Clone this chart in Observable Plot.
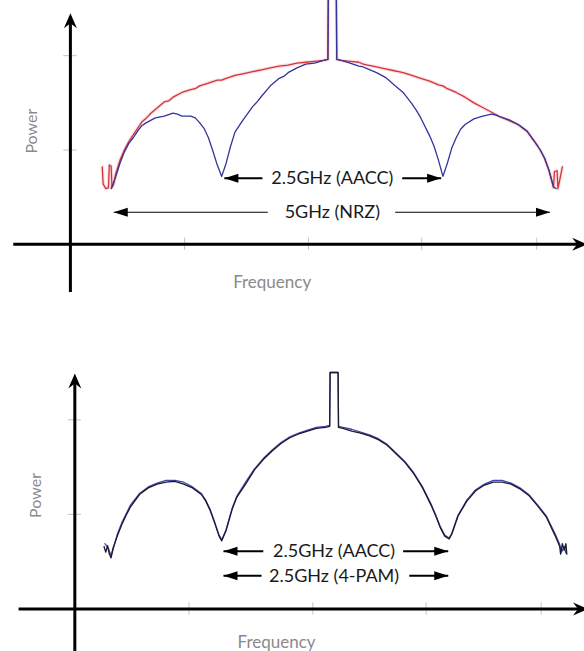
<!DOCTYPE html>
<html>
<head>
<meta charset="utf-8">
<script src="https://cdn.jsdelivr.net/npm/d3@7"></script>
<script src="https://cdn.jsdelivr.net/npm/@observablehq/plot@0.6"></script>
<style>
  body { margin: 0; background: #fff; }
  #chart svg { display: block; }
</style>
</head>
<body>
<div id="chart"></div>
<script>
// Power spectra of NRZ, AACC and 4-PAM signalling (frequency offset from the carrier in GHz, power in dB).

// Unlabelled axis tick positions
const xTicksGHz = [1.29, 2.69, 3.97, 5.27];
const yTicksDb = [10, 20];

// ---- Upper panel: NRZ vs AACC ----
const topAaccOffset = [-2.5, -2.45, -2.4, -2.35, -2.3, -2.25, -2.2, -2.15, -2.1, -2.0, -1.9, -1.8, -1.75, -1.7, -1.6, -1.55, -1.5, -1.45, -1.4, -1.35, -1.3, -1.25, -1.2, -1.15, -1.1, -1.05, -1.0, -0.9, -0.85, -0.8, -0.7, -0.6, -0.55, -0.5, -0.4, -0.3, -0.2, -0.1, -0.05, -0.045, 0.045, 0.05, 0.1, 0.2, 0.3, 0.35, 0.4, 0.5, 0.6, 0.7, 0.8, 0.9, 0.95, 1.0, 1.1, 1.15, 1.2, 1.25, 1.3, 1.35, 1.4, 1.45, 1.5, 1.6, 1.7, 1.8, 1.85, 1.9, 2.0, 2.1, 2.2, 2.3, 2.35, 2.4, 2.45, 2.5, 2.53];
const topAaccPower  = [5.9, 7.1, 8.6, 9.8, 10.7, 11.3, 12.0, 12.6, 12.9, 13.4, 13.6, 13.9, 13.8, 13.6, 13.6, 13.4, 12.9, 12.3, 11.3, 9.9, 8.4, 7.2, 8.6, 10.4, 11.9, 12.6, 13.3, 14.6, 15.1, 15.7, 16.8, 17.6, 17.8, 18.2, 18.7, 19.1, 19.2, 19.5, 19.6, 27, 27, 19.6, 19.5, 19.2, 18.9, 18.8, 18.6, 18.2, 17.7, 16.9, 16.1, 14.9, 14.2, 13.4, 11.5, 10.4, 8.9, 7.2, 8.6, 10.2, 11.3, 12.2, 12.7, 13.3, 13.6, 13.8, 13.7, 13.5, 13.2, 12.7, 12.0, 10.7, 10.0, 9.1, 7.8, 6.1, 5.9];

const topNrzOffset = [-2.6, -2.59, -2.56, -2.53, -2.52, -2.5, -2.49, -2.47, -2.45, -2.4, -2.35, -2.3, -2.25, -2.2, -2.15, -2.1, -2.05, -2.0, -1.9, -1.85, -1.8, -1.7, -1.6, -1.55, -1.5, -1.4, -1.3, -1.25, -1.2, -1.1, -1.0, -0.9, -0.85, -0.8, -0.7, -0.6, -0.5, -0.4, -0.3, -0.2, -0.1, -0.05, -0.045, 0.045, 0.05, 0.1, 0.2, 0.3, 0.35, 0.4, 0.5, 0.6, 0.7, 0.75, 0.8, 0.9, 1.0, 1.1, 1.2, 1.25, 1.3, 1.4, 1.5, 1.6, 1.7, 1.8, 1.9, 2.0, 2.1, 2.2, 2.3, 2.35, 2.4, 2.45, 2.5, 2.51, 2.54, 2.55, 2.6];
const topNrzPower  = [8.2, 6.4, 5.9, 6.0, 8.4, 8.3, 6.0, 6.4, 7.4, 8.9, 10.0, 10.9, 11.6, 12.3, 13.0, 13.4, 13.9, 14.3, 15.1, 15.2, 15.6, 16.1, 16.4, 16.5, 16.8, 17.1, 17.4, 17.4, 17.6, 17.9, 18.1, 18.3, 18.4, 18.5, 18.7, 18.9, 19.0, 19.2, 19.3, 19.4, 19.5, 19.6, 27, 27, 19.6, 19.5, 19.4, 19.3, 19.1, 19.0, 18.8, 18.6, 18.4, 18.3, 18.2, 17.9, 17.6, 17.3, 16.9, 16.8, 16.5, 16.1, 15.6, 15.0, 14.5, 14.0, 13.5, 13.1, 12.7, 12.0, 10.7, 10.0, 9.1, 7.8, 6.0, 7.7, 7.8, 5.9, 8.2];

const topNoteLabels = ["2.5GHz (AACC)", "5GHz (NRZ)"];
const topNoteLevels = [7.0, 3.4];
const topNoteInner = [[-0.79, 0.79], [-0.73, 0.71]];
const topNoteTips = [[-1.22, 1.23], [-2.47, 2.46]];
const topNoteWeights = [2, 1.2];

// ---- Lower panel: 4-PAM vs AACC ----
const botPamOffset = [-2.6, -2.58, -2.56, -2.54, -2.52, -2.5, -2.45, -2.4, -2.35, -2.3, -2.2, -2.1, -2.0, -1.9, -1.8, -1.7, -1.6, -1.5, -1.45, -1.4, -1.35, -1.3, -1.27, -1.22, -1.15, -1.1, -1.0, -0.9, -0.8, -0.7, -0.6, -0.5, -0.4, -0.3, -0.2, -0.1, -0.05, -0.045, 0.045, 0.05, 0.1, 0.2, 0.3, 0.4, 0.5, 0.6, 0.7, 0.8, 0.9, 1.0, 1.1, 1.15, 1.2, 1.25, 1.3, 1.33, 1.4, 1.5, 1.6, 1.7, 1.8, 1.9, 2.0, 2.1, 2.2, 2.3, 2.4, 2.5, 2.55, 2.56, 2.58, 2.6, 2.62, 2.63];
const botPamPower  = [6.6, 6.0, 6.7, 5.8, 5.4, 6.4, 7.7, 8.9, 9.9, 10.8, 12.1, 12.8, 13.2, 13.4, 13.5, 13.2, 12.8, 12.1, 11.4, 10.4, 9.1, 7.7, 7.2, 8.3, 10.6, 11.8, 13.2, 14.7, 15.8, 16.7, 17.5, 18.1, 18.5, 18.8, 19.1, 19.2, 19.3, 25.0, 25.0, 19.2, 19.1, 18.8, 18.6, 18.3, 17.9, 17.3, 16.4, 15.5, 14.3, 12.8, 10.9, 9.8, 8.6, 7.7, 7.4, 7.9, 9.8, 11.4, 12.5, 13.1, 13.4, 13.4, 13.2, 12.7, 12.0, 10.9, 9.7, 7.7, 6.6, 5.8, 6.9, 6.2, 6.9, 5.8];

const botAaccOffset = [-2.59, -2.55, -2.52, -2.5, -2.45, -2.4, -2.3, -2.2, -2.1, -2.0, -1.9, -1.8, -1.7, -1.6, -1.5, -1.45, -1.4, -1.35, -1.3, -1.27, -1.22, -1.15, -1.1, -1.0, -0.9, -0.8, -0.7, -0.6, -0.5, -0.4, -0.3, -0.2, -0.1, -0.05, -0.045, 0.045, 0.05, 0.1, 0.2, 0.3, 0.4, 0.5, 0.6, 0.7, 0.8, 0.9, 1.0, 1.1, 1.15, 1.2, 1.25, 1.3, 1.33, 1.4, 1.5, 1.6, 1.7, 1.8, 1.9, 2.0, 2.1, 2.2, 2.3, 2.4, 2.5, 2.55, 2.57, 2.6, 2.62];
const botAaccPower  = [6.9, 6.4, 5.6, 6.2, 7.9, 9.1, 11.0, 12.2, 12.9, 13.3, 13.6, 13.6, 13.4, 12.9, 12.2, 11.5, 10.5, 9.2, 7.8, 7.3, 8.4, 10.7, 11.9, 13.4, 14.8, 15.9, 16.8, 17.6, 18.2, 18.6, 18.9, 19.2, 19.3, 19.4, 25.0, 25.0, 19.3, 19.2, 19.0, 18.7, 18.4, 18.0, 17.4, 16.5, 15.6, 14.4, 12.9, 11.0, 9.9, 8.7, 7.8, 7.5, 8.0, 9.9, 11.5, 12.6, 13.2, 13.6, 13.6, 13.3, 12.8, 12.1, 11.0, 9.8, 7.9, 6.8, 6.0, 6.6, 5.9];

const botNoteLabels = ["2.5GHz (AACC)", "2.5GHz (4-PAM)"];
const botNoteLevels = [6.1, 3.5];
const botNoteInner = [[-0.80, 0.78], [-0.82, 0.85]];
const botNoteTips = [[-1.25, 1.29], [-1.25, 1.29]];
const botNoteWeights = [2, 2];

// Arrowhead glyphs (tip at the origin, pointing right)
const axisHead = {
  draw(ctx) {
    ctx.moveTo(0, 0); ctx.lineTo(-15, -6.5); ctx.lineTo(-10, 0); ctx.lineTo(-15, 6.5); ctx.closePath();
  }
};
const noteHead = {
  draw(ctx) {
    ctx.moveTo(0, 0); ctx.lineTo(-14, -4.5); ctx.lineTo(-14, 4.5); ctx.closePath();
  }
};

const FONT = "Lato, 'Open Sans', sans-serif";

function series(carrier, offsets, powers) {
  return offsets.map((o, i) => ({f: carrier + o, p: powers[i]}));
}

function notes(carrier, labels, levels, inner, tips, weights) {
  const segs = [], heads = [], texts = [];
  labels.forEach((label, i) => {
    texts.push({f: carrier, p: levels[i], label});
    [0, 1].forEach(side => {
      segs.push({f1: carrier + inner[i][side], f2: carrier + tips[i][side], p: levels[i], w: weights[i]});
      heads.push({f: carrier + tips[i][side], p: levels[i], rot: side === 0 ? 180 : 0});
    });
  });
  return {segs, heads, texts};
}

function panel(cfg) {
  const n = notes(cfg.carrier, ...cfg.notes);
  return Plot.plot({
    width: 584,
    height: cfg.height,
    marginLeft: 0,
    marginRight: 0,
    marginTop: cfg.marginTop,
    marginBottom: cfg.marginBottom,
    x: {domain: cfg.xDomain, axis: null},
    y: {domain: cfg.yDomain, axis: null},
    style: {background: "#fff", overflow: "hidden"},
    marks: [
      // light tick marks crossing the axes
      Plot.ruleX(xTicksGHz, {y1: -0.65, y2: 0.65, stroke: "#c4c4c4", strokeWidth: 1}),
      Plot.ruleY(yTicksDb, {x1: -0.075, x2: 0.075, stroke: "#c4c4c4", strokeWidth: 1}),
      // axes with arrowheads
      Plot.ruleY([0], {x1: cfg.xAxisFrom, x2: cfg.xAxisTip - 0.1, stroke: "#000", strokeWidth: 3}),
      Plot.ruleX([0], {y1: cfg.yAxisFrom, y2: cfg.yAxisTip - 0.9, stroke: "#000", strokeWidth: 3}),
      Plot.dot([{f: cfg.xAxisTip, p: 0, rot: 0}, {f: 0, p: cfg.yAxisTip, rot: -90}],
        {x: "f", y: "p", rotate: "rot", symbol: axisHead, fill: "#000", stroke: "none"}),
      // spectra
      ...cfg.curves.flatMap(c => [
        ...(c.halo ? [Plot.line(c.data, {x: "f", y: "p", stroke: c.halo, strokeWidth: 3.5, strokeOpacity: 0.35, curve: "linear"})] : []),
        Plot.line(c.data, {x: "f", y: "p", stroke: c.color, strokeWidth: 1.3, curve: "linear"})
      ]),
      // bandwidth annotations
      Plot.link(n.segs, {x1: "f1", x2: "f2", y1: "p", y2: "p", stroke: "#000", strokeWidth: "w"}),
      Plot.dot(n.heads, {x: "f", y: "p", rotate: "rot", symbol: noteHead, fill: "#000", stroke: "none"}),
      Plot.text(n.texts, {x: "f", y: "p", text: "label", fill: "#1a1a1a", fontSize: 18, fontFamily: FONT}),
      // axis titles
      Plot.text(["Power"], {x: -0.44, y: 12, rotate: -90, fill: "#8a8a8a", fontSize: 16, fontFamily: FONT}),
      Plot.text(["Frequency"], {x: 2.28, y: cfg.freqLabelAt, fill: "#8a8a8a", fontSize: 17, fontFamily: FONT})
    ]
  });
}

const upperPanel = panel({
  height: 325, marginTop: 8, marginBottom: 34,
  xDomain: [-0.79, 5.81], yDomain: [-5, 25],
  carrier: 2.96, xAxisFrom: -0.64, xAxisTip: 5.84, yAxisFrom: -5.1, yAxisTip: 24.5,
  freqLabelAt: -4.1,
  curves: [
    {data: series(2.96, topNrzOffset, topNrzPower), color: "#d4343c", halo: "#f2a0a8"},
    {data: series(2.96, topAaccOffset, topAaccPower), color: "#33349c"}
  ],
  notes: [topNoteLabels, topNoteLevels, topNoteInner, topNoteTips, topNoteWeights]
});

const lowerPanel = panel({
  height: 326, marginTop: 47, marginBottom: 0,
  xDomain: [-0.84, 5.76], yDomain: [-4.5, 25],
  carrier: 2.93, xAxisFrom: -0.63, xAxisTip: 5.80, yAxisFrom: -4.6, yAxisTip: 24.9,
  freqLabelAt: -3.6,
  curves: [
    {data: series(2.93, botAaccOffset, botAaccPower), color: "#4545b0"},
    {data: series(2.93, botPamOffset, botPamPower), color: "#1b1b2e"}
  ],
  notes: [botNoteLabels, botNoteLevels, botNoteInner, botNoteTips, botNoteWeights]
});

document.getElementById("chart").append(upperPanel, lowerPanel);
</script>
</body>
</html>
